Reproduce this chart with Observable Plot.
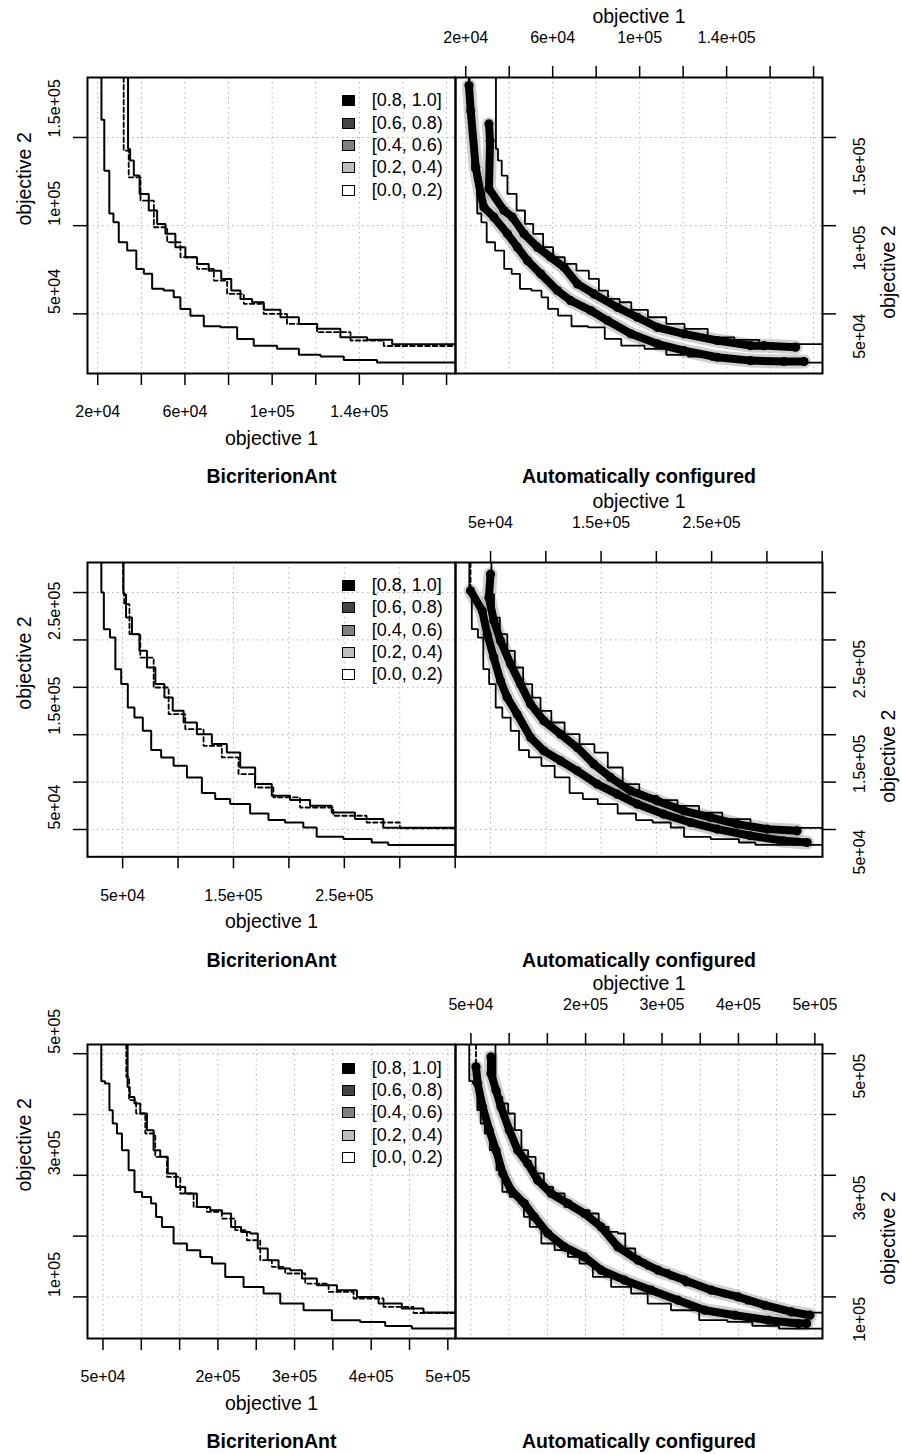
<!DOCTYPE html>
<html><head><meta charset="utf-8">
<script src="https://cdn.jsdelivr.net/npm/d3@7"></script>
<script src="https://cdn.jsdelivr.net/npm/@observablehq/plot@0.6"></script>
<style>
body{margin:0;background:#fff;}
#wrap{position:relative;width:902px;height:1454px;font-family:"Liberation Sans",Arial,Helvetica,sans-serif;overflow:hidden;}
.legend{position:absolute;font-size:18px;color:#000;}
.legend .row{display:flex;align-items:center;height:22.3px;white-space:pre;}
.legend .sw{width:11px;height:9px;border:1.5px solid #000;margin-right:17px;box-sizing:content-box;}
</style></head><body><div id="wrap"></div><script>
// ---------- legend ----------
const legendLabels = ["[0.8, 1.0]", "[0.6, 0.8)", "[0.4, 0.6)", "[0.2, 0.4)", "[0.0, 0.2)"];
const legendColors = ["#000000", "#444444", "#808080", "#bebebe", "#ffffff"];
const leftTitle = "BicriterionAnt";
const rightTitle = "Automatically configured";
const xTitle = "objective 1";
const yTitle = "objective 2";

// ---------- row 1 ----------
const r1XDomain = [15300, 184100];
const r1YDomain = [16200, 184000];
const r1XTicks = [20000, 40000, 60000, 80000, 100000, 120000, 140000, 160000, 180000];
const r1XLabels = [20000, 60000, 100000, 140000];
const r1YTicks = [50000, 100000, 150000];
const r1YLabels = [50000, 100000, 150000];
const r1BestX = [21700, 24300, 26300, 28100, 31200, 35800, 39600, 42700, 47200, 53300, 56400, 59400, 65600, 71700, 80900, 87000, 96100, 108400, 116100, 128300, 137400, 158800];
const r1BestY = [160000, 131200, 106900, 101900, 90600, 85900, 75500, 72700, 64200, 63200, 59400, 52800, 49000, 43000, 42400, 35800, 32000, 30200, 26800, 25800, 23900, 22400];
const r1WorstX = [33900, 35800, 37300, 41100, 45700, 48800, 53300, 57900, 62500, 68600, 73200, 80100, 82400, 88500, 93100, 99200, 108400, 116100, 125200, 137400, 149700, 160400];
const r1WorstY = [143500, 136900, 128400, 118000, 108600, 101000, 95400, 87800, 82100, 78300, 74500, 69800, 63200, 58500, 56600, 52300, 48100, 44300, 41500, 36700, 35300, 32800];
const r1MedX = [31900, 36500, 42700, 48800, 54900, 61000, 70200, 76300, 82400, 91600, 100700, 112900, 128300, 143600, 158800];
const r1MedY = [142600, 127400, 114200, 99100, 90600, 82100, 75500, 68900, 61300, 55700, 50000, 44300, 39600, 34900, 31800];
const r1LowX = [21500, 22300, 24600, 26900, 28400, 33000, 39200, 43800, 48400, 54500, 62200, 68300, 77500, 85200, 95900, 108100, 120400, 135700, 151000, 166400, 175600];
const r1LowY = [179400, 165200, 133100, 118000, 110400, 104800, 95400, 87800, 80200, 72700, 63200, 57500, 51900, 46200, 38700, 33000, 29200, 25400, 23500, 23000, 23000];
const r1HighX = [30700, 31200, 30700, 37600, 41500, 46800, 53000, 59100, 65200, 71400, 79000, 89800, 98900, 108100, 120400, 135700, 151000, 157200, 171700];
const r1HighY = [157700, 148200, 120900, 108600, 104800, 95400, 87800, 82100, 76400, 67000, 61300, 53700, 48100, 42400, 38700, 34900, 32000, 32000, 31100];

// ---------- row 2 ----------
const r2XDomain = [18300, 350300];
const r2YDomain = [21200, 331700];
const r2XTicks = [50000, 100000, 150000, 200000, 250000, 300000, 350000];
const r2XLabels = [50000, 150000, 250000];
const r2YTicks = [50000, 100000, 150000, 200000, 250000, 300000];
const r2YLabels = [50000, 150000, 250000];
const r2BestX = [30800, 35300, 41900, 45000, 52400, 56900, 64400, 72000, 79500, 90000, 102000, 114000, 129000, 138000, 156000, 174000, 189100, 204000, 222000, 228100, 270200, 279200, 300000];
const r2BestY = [300000, 261400, 252500, 219200, 203400, 178700, 168100, 154100, 133800, 126000, 117200, 104900, 88400, 82100, 76800, 66900, 59900, 57400, 52100, 42300, 39900, 36300, 33700];
const r2WorstX = [50800, 55400, 61400, 68900, 75000, 84000, 91400, 99000, 111000, 123000, 138000, 150000, 162100, 177000, 192100, 210100, 228100, 249100, 270200, 300100];
const r2WorstY = [298300, 273600, 256100, 238500, 220900, 203400, 189200, 175200, 162900, 150600, 140100, 131200, 115400, 97900, 85500, 81000, 75000, 67900, 61000, 51800];
const r2MedX = [50400, 52400, 59900, 72000, 84000, 99000, 114000, 132000, 147000, 162100, 177000, 195000, 225100, 255100, 285100, 315200];
const r2MedY = [300000, 287800, 256100, 231400, 199800, 171700, 155900, 138300, 126000, 108400, 94300, 83800, 73200, 64500, 57400, 51200];
const r2LowX = [31900, 42500, 47000, 53000, 59000, 65100, 74100, 86200, 98200, 113300, 128400, 146500, 164600, 182700, 206700, 230800, 255000, 285100, 315200, 336400];
const r2LowY = [301800, 280700, 256100, 231400, 206900, 189200, 171700, 147000, 133000, 122500, 111900, 97900, 87300, 76800, 66200, 57400, 50400, 43400, 38100, 36300];
const r2HighX = [50000, 48500, 53000, 59000, 68100, 77100, 86200, 98200, 113300, 128400, 143400, 158500, 176600, 200700, 224800, 248900, 273100, 300200, 327300];
const r2HighY = [319400, 294700, 270200, 249100, 224500, 203400, 182300, 164700, 150600, 136500, 119000, 104900, 90800, 80300, 69700, 62700, 55700, 50400, 48600];

// ---------- row 3 ----------
const r3XDomain = [29800, 510000];
const r3YDomain = [31600, 515100];
const r3XTicks = [50000, 100000, 150000, 200000, 250000, 300000, 350000, 400000, 450000, 500000];
const r3XLabels = [50000, 200000, 300000, 400000, 500000];
const r3YTicks = [100000, 200000, 300000, 400000, 500000];
const r3YLabels = [100000, 300000, 500000];
const r3BestX = [47800, 57300, 59500, 66000, 70400, 79100, 87800, 94400, 107400, 118200, 120400, 133500, 150800, 168200, 185700, 198700, 220400, 246500, 272600, 290000, 333500, 363900, 407400, 429100, 477000];
const r3BestY = [454800, 451000, 407100, 385200, 368700, 341300, 308400, 272700, 264500, 253600, 231600, 215100, 187800, 176800, 165800, 154900, 132900, 116400, 105600, 89100, 78100, 61700, 58900, 52300, 48000];
const r3WorstX = [82100, 87800, 94400, 103000, 111700, 120400, 129100, 140000, 150800, 163900, 181200, 198700, 211800, 222600, 237800, 246500, 257400, 272600, 285600, 303100, 316100, 342200, 368300, 394400, 424800, 455200, 481300];
const r3WorstY = [445400, 428900, 418100, 401600, 374200, 341300, 330300, 303000, 280900, 270100, 248000, 242600, 237200, 215100, 206900, 204300, 179600, 160400, 146700, 143900, 130300, 119200, 111000, 100000, 89100, 80900, 74300];
const r3MedX = [80400, 87800, 98700, 111700, 124700, 142100, 159600, 176900, 194300, 216000, 229100, 246500, 263900, 277000, 298600, 329200, 359600, 394400, 437800, 472600];
const r3MedY = [461800, 423500, 401600, 368700, 330300, 297400, 270100, 248000, 239800, 228900, 209700, 193200, 160400, 149300, 138500, 122000, 108200, 97400, 83600, 73500];
const r3LowX = [56600, 58800, 65300, 74000, 82800, 91600, 102400, 119900, 133000, 150600, 172300, 198500, 220400, 251000, 286000, 321000, 355900, 395200, 439000, 478300, 489200];
const r3LowY = [478300, 451000, 412500, 374200, 341300, 303000, 275600, 253600, 231600, 204300, 182200, 165800, 143900, 127500, 111000, 94600, 78100, 69900, 61700, 56200, 56200];
const r3HighX = [76200, 76200, 82800, 89300, 100200, 111200, 124300, 137400, 154900, 176800, 198500, 220400, 242300, 268500, 294800, 329700, 364600, 399600, 434500, 469500, 493500];
const r3HighY = [494700, 467400, 440000, 412500, 374200, 341300, 319400, 292000, 270100, 253600, 237200, 215100, 182200, 160400, 143900, 127500, 111000, 100000, 86300, 75300, 69900];

// ---------- layout (pixels) ----------
const rows = [
  {top: 77, h: 296, xd: r1XDomain, yd: r1YDomain, xt: r1XTicks, xl: r1XLabels, yt: r1YTicks, yl: r1YLabels,
   best: [r1BestX, r1BestY], worst: [r1WorstX, r1WorstY], med: [r1MedX, r1MedY], low: [r1LowX, r1LowY], high: [r1HighX, r1HighY]},
  {top: 561.7, h: 294.3, xd: r2XDomain, yd: r2YDomain, xt: r2XTicks, xl: r2XLabels, yt: r2YTicks, yl: r2YLabels,
   best: [r2BestX, r2BestY], worst: [r2WorstX, r2WorstY], med: [r2MedX, r2MedY], low: [r2LowX, r2LowY], high: [r2HighX, r2HighY]},
  {top: 1044.3, h: 294, xd: r3XDomain, yd: r3YDomain, xt: r3XTicks, xl: r3XLabels, yt: r3YTicks, yl: r3YLabels,
   best: [r3BestX, r3BestY], worst: [r3WorstX, r3WorstY], med: [r3MedX, r3MedY], low: [r3LowX, r3LowY], high: [r3HighX, r3HighY]}
];

const fmt = v => v.toExponential().replace(/e([+-])(\d)$/, "e$10$2");
const pts = ([xs, ys]) => xs.map((x, i) => ({x, y: ys[i]}));
const stair = (s, r) => [{x: s[0][0], y: r.yd[1]}, ...pts(s), {x: r.xd[1], y: s[1][s[1].length - 1]}];
const withTop = (s, r) => [{x: s[0][0], y: r.yd[1]}, ...pts(s)];

const FONT = '"Liberation Sans", Arial, Helvetica, sans-serif';
const MT = 77, MB = 125;
const wrap = document.getElementById("wrap");

function common(r) {
  return [
    Plot.gridX(r.xt, {stroke: "#b4b4b4", strokeOpacity: 1, strokeDasharray: "1.5,3.5", strokeWidth: 1}),
    Plot.gridY(r.yt, {stroke: "#b4b4b4", strokeOpacity: 1, strokeDasharray: "1.5,3.5", strokeWidth: 1})
  ];
}

rows.forEach((r, k) => {
  const best = stair(r.best, r), worst = stair(r.worst, r), med = stair(r.med, r);
  const low = pts(r.low), high = pts(r.high);
  const lineOpts = {x: "x", y: "y", curve: "step", stroke: "black", strokeWidth: 2, strokeLinejoin: "miter", clip: true};

  // left panel
  const left = Plot.plot({
    width: 456, height: MT + r.h + MB,
    marginLeft: 87, marginRight: 1, marginTop: MT, marginBottom: MB,
    x: {domain: r.xd}, y: {domain: r.yd},
    style: {position: "absolute", left: "0px", top: (r.top - MT) + "px", background: "transparent", overflow: "visible", fontFamily: FONT, fontSize: "16px", color: "black"},
    marks: [
      ...common(r),
      Plot.line(best, lineOpts),
      Plot.line(worst, lineOpts),
      Plot.line(med, {...lineOpts, strokeWidth: 1.8, strokeDasharray: "4.5,3"}),
      Plot.frame({stroke: "black", strokeWidth: 2}),
      Plot.axisX(r.xt, {anchor: "bottom", tickSize: 12, tickFormat: () => "", label: null, strokeWidth: 1.5}),
      Plot.axisY(r.yt, {anchor: "left", tickSize: 14, tickFormat: () => "", label: null, strokeWidth: 1.5}),
      Plot.text(r.xl, {x: d => d, text: fmt, frameAnchor: "bottom", dy: 38.7, lineAnchor: "middle", fontSize: 16}),
      Plot.text(r.yl, {y: d => d, text: fmt, frameAnchor: "left", dx: -33, rotate: -90, lineAnchor: "middle", fontSize: 16}),
      Plot.text([xTitle], {text: d => d, frameAnchor: "bottom", dy: 65, lineAnchor: "middle", fontSize: 19.5}),
      Plot.text([yTitle], {text: d => d, frameAnchor: "left", dx: -63, rotate: -90, lineAnchor: "middle", fontSize: 19.5}),
      Plot.text([leftTitle], {text: d => d, frameAnchor: "bottom", dy: 103.7, lineAnchor: "middle", fontSize: 19.5, fontWeight: "bold"})
    ]
  });
  wrap.appendChild(left);

  // right panel
  const right = Plot.plot({
    width: 462, height: MT + r.h + MB,
    marginLeft: 15, marginRight: 80, marginTop: MT, marginBottom: MB,
    x: {domain: r.xd}, y: {domain: r.yd},
    style: {position: "absolute", left: "440px", top: (r.top - MT) + "px", background: "transparent", overflow: "visible", fontFamily: FONT, fontSize: "16px", color: "black"},
    marks: [
      ...common(r),
      Plot.line(low, {x: "x", y: "y", stroke: "#8a8a8a", strokeOpacity: 0.4, strokeWidth: 14, strokeLinejoin: "round", strokeLinecap: "round", clip: true}),
      Plot.line(high, {x: "x", y: "y", stroke: "#8a8a8a", strokeOpacity: 0.4, strokeWidth: 14, strokeLinejoin: "round", strokeLinecap: "round", clip: true}),
      Plot.line(withTop(r.low, r), {x: "x", y: "y", stroke: "black", strokeWidth: 1.8, strokeDasharray: "4.5,3", clip: true}),
      Plot.line(low, {x: "x", y: "y", stroke: "black", strokeWidth: 8, strokeLinejoin: "round", strokeLinecap: "round", clip: true}),
      Plot.line(high, {x: "x", y: "y", stroke: "black", strokeWidth: 8, strokeLinejoin: "round", strokeLinecap: "round", clip: true}),
      Plot.dot(low, {x: "x", y: "y", r: 4.6, fill: "black", clip: true}),
      Plot.dot(high, {x: "x", y: "y", r: 4.6, fill: "black", clip: true}),
      Plot.line(best, {...lineOpts, strokeWidth: 1.8}),
      Plot.line(worst, {...lineOpts, strokeWidth: 1.8}),
      Plot.frame({stroke: "black", strokeWidth: 2}),
      Plot.axisX(r.xt, {anchor: "top", tickSize: 12, tickFormat: () => "", label: null, strokeWidth: 1.5}),
      Plot.axisY(r.yt, {anchor: "right", tickSize: 13, tickFormat: () => "", label: null, strokeWidth: 1.5}),
      Plot.text(r.xl, {x: d => d, text: fmt, frameAnchor: "top", dy: -40, lineAnchor: "middle", fontSize: 16}),
      Plot.text(r.yl, {y: d => d, text: fmt, frameAnchor: "right", dx: 37, rotate: -90, lineAnchor: "middle", fontSize: 16}),
      Plot.text([xTitle], {text: d => d, frameAnchor: "top", dy: -61, lineAnchor: "middle", fontSize: 19.5}),
      Plot.text([yTitle], {text: d => d, frameAnchor: "right", dx: 66, rotate: -90, lineAnchor: "middle", fontSize: 19.5}),
      Plot.text([rightTitle], {text: d => d, frameAnchor: "bottom", dy: 103.7, lineAnchor: "middle", fontSize: 19.5, fontWeight: "bold"})
    ]
  });
  wrap.appendChild(right);

  // legend (inside left panel)
  const lg = document.createElement("div");
  lg.className = "legend";
  lg.style.left = "341.7px";
  lg.style.top = (r.top + 24 - 11.15) + "px";
  legendLabels.forEach((t, i) => {
    const row = document.createElement("div");
    row.className = "row";
    const sw = document.createElement("span");
    sw.className = "sw";
    sw.style.background = legendColors[i];
    row.appendChild(sw);
    row.appendChild(document.createTextNode(t));
    lg.appendChild(row);
  });
  wrap.appendChild(lg);
});
</script></body></html>
